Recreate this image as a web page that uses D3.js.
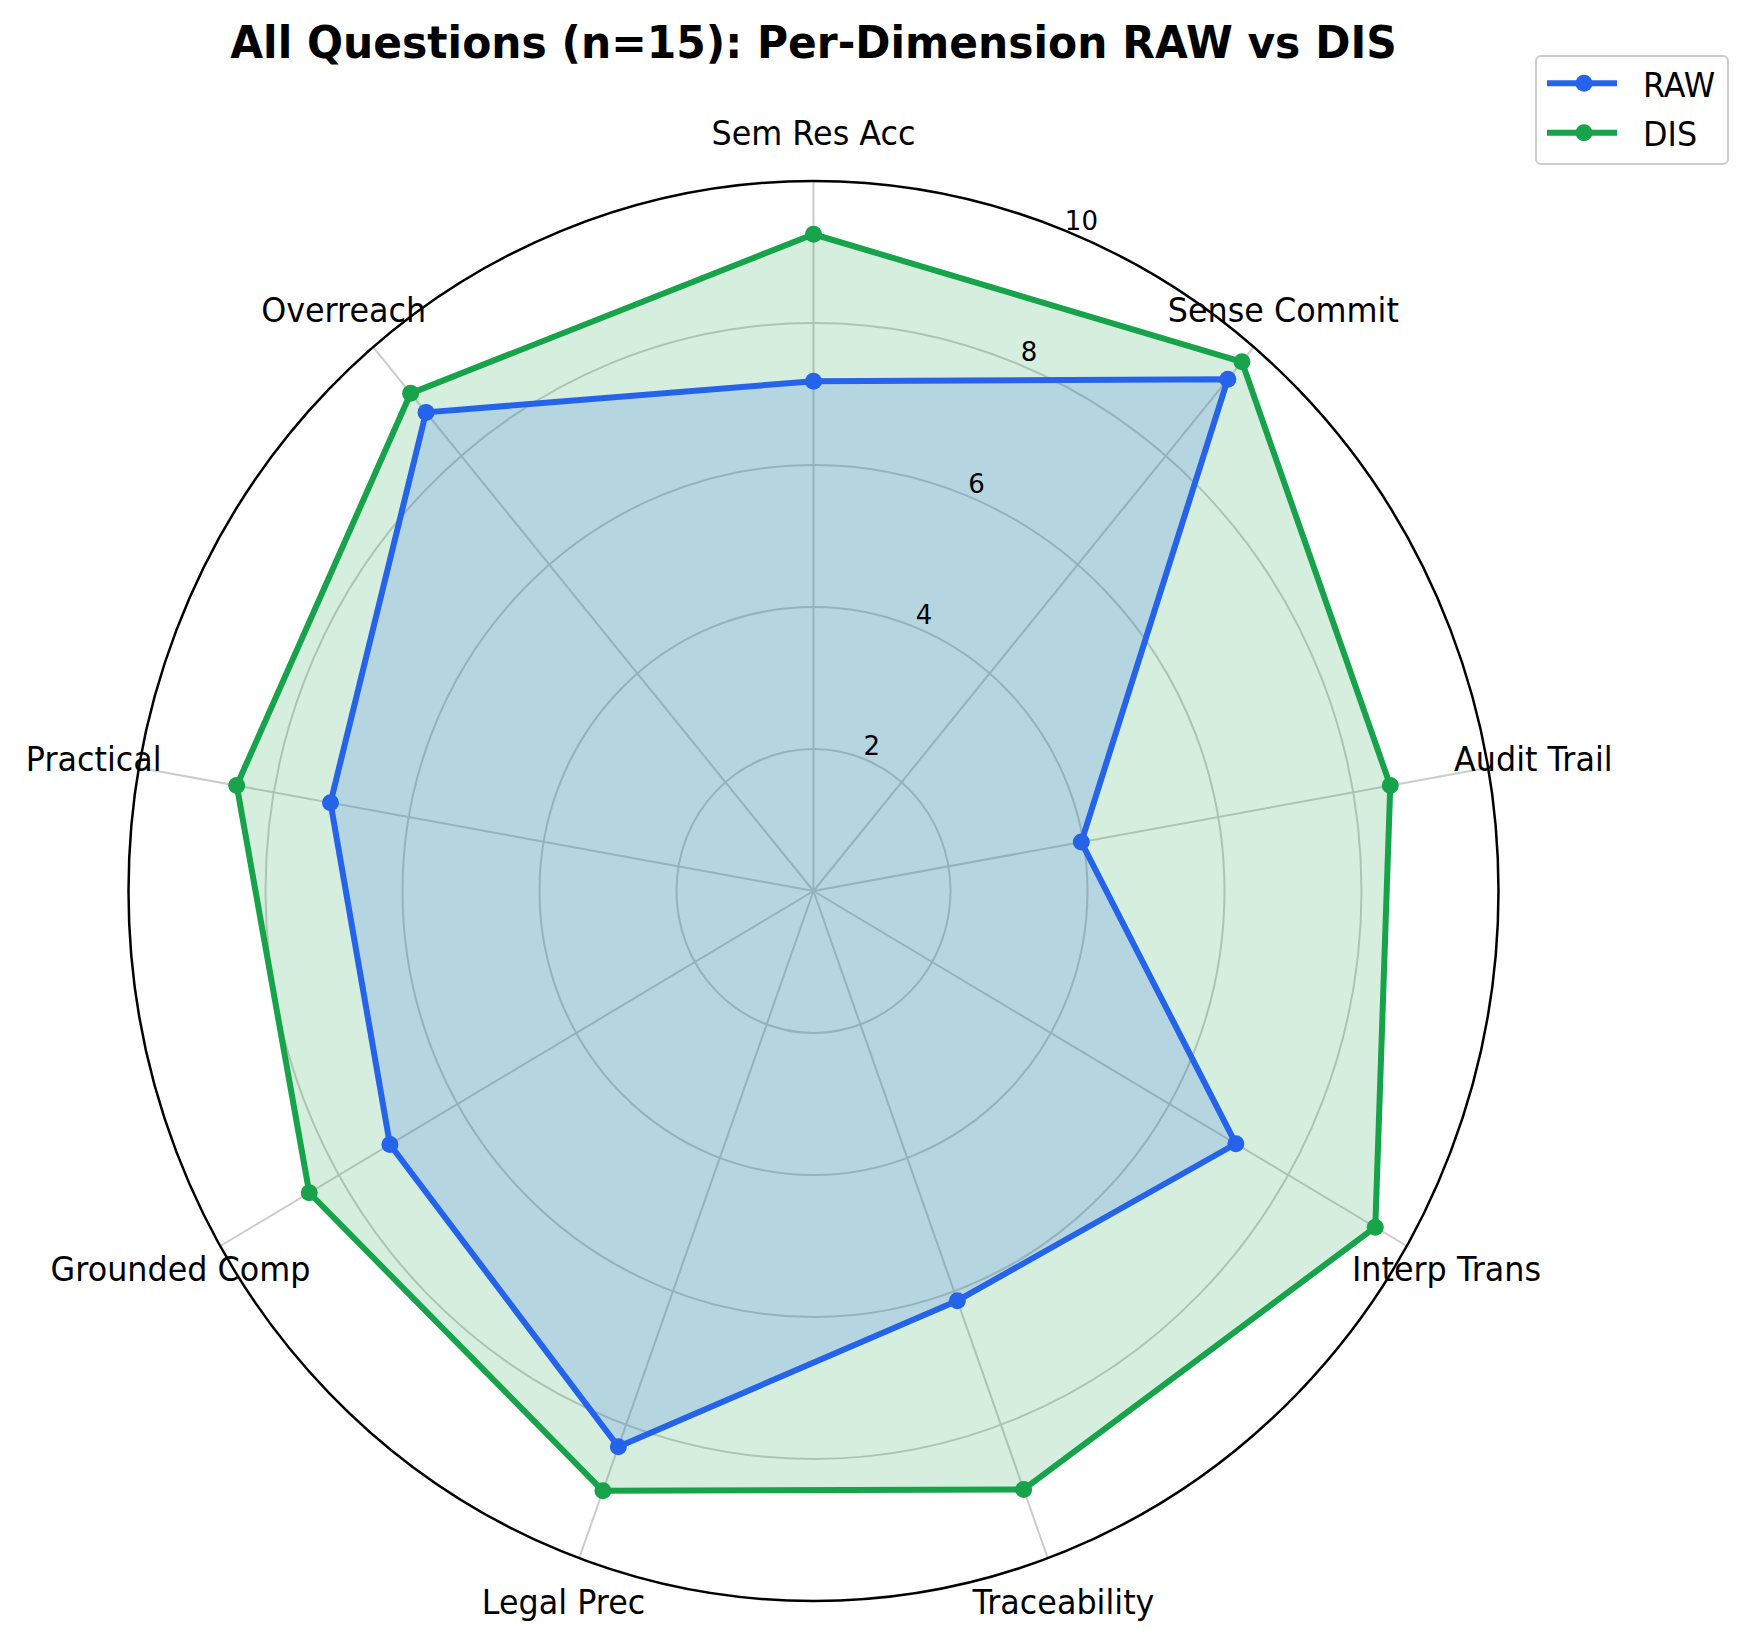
<!DOCTYPE html>
<html>
<head>
<meta charset="utf-8">
<script src="https://cdn.jsdelivr.net/npm/d3@7"></script>
<style>
  body { margin: 0; background: #fff; }
  text { font-family: "DejaVu Sans", sans-serif; fill: #000; }
</style>
</head>
<body>
<div id="chart"></div>
<script>
// data
var dimensions = ["Sem Res Acc", "Sense Commit", "Audit Trail", "Interp Trans", "Traceability",
                  "Legal Prec", "Grounded Comp", "Practical", "Overreach"];
var rawScores = [7.18, 9.41, 3.97, 7.12, 6.14, 8.33, 7.14, 7.16, 8.80];
var disScores = [9.25, 9.73, 8.55, 9.47, 8.97, 8.99, 8.50, 8.55, 9.15];
var radialTicks = [2, 4, 6, 8, 10];
var seriesNames = ["RAW", "DIS"];
var seriesColors = ["#2563eb", "#16a34a"];

var width = 1752, height = 1645;
var cx = 813.5, cy = 891;
var rx = 685, ry = 710;      // picture is a bit taller than wide
var sx = rx / ry;            // squeeze text the same way

var svg = d3.select("#chart").append("svg")
    .attr("width", width)
    .attr("height", height);

var rX = d3.scaleLinear().domain([0, 10]).range([0, rx]);
var rY = d3.scaleLinear().domain([0, 10]).range([0, ry]);
var angle = d3.scaleLinear().domain([0, dimensions.length]).range([0, 2 * Math.PI]);

function px(v, i) { return cx + rX(v) * Math.sin(angle(i)); }
function py(v, i) { return cy - rY(v) * Math.cos(angle(i)); }

function squeezedText(g, x, y) {
    return g.append("text").attr("transform", "translate(" + x + "," + y + ") scale(" + sx + ",1)");
}

var grid = svg.append("g");

// rings
grid.selectAll("ellipse.ring")
    .data(radialTicks.filter(function (d) { return d < 10; }))
    .enter().append("ellipse")
    .attr("class", "ring")
    .attr("cx", cx).attr("cy", cy)
    .attr("rx", function (d) { return rX(d); })
    .attr("ry", function (d) { return rY(d); })
    .style("fill", "none")
    .style("stroke", "#cccccc")
    .style("stroke-width", 2);

// spokes
grid.selectAll("line.spoke")
    .data(dimensions)
    .enter().append("line")
    .attr("class", "spoke")
    .attr("x1", cx).attr("y1", cy)
    .attr("x2", function (d, i) { return px(10, i); })
    .attr("y2", function (d, i) { return py(10, i); })
    .style("stroke", "#cccccc")
    .style("stroke-width", 2);

var line = d3.line()
    .x(function (d, i) { return px(d, i); })
    .y(function (d, i) { return py(d, i); })
    .curve(d3.curveLinearClosed);

var allSeries = [rawScores, disScores];

// fills first, DIS under RAW
[1, 0].forEach(function (s) {
    svg.append("path")
        .datum(allSeries[s])
        .attr("d", line)
        .style("fill", seriesColors[s])
        .style("fill-opacity", 0.18)
        .style("stroke", "none");
});

[1, 0].forEach(function (s) {
    var g = svg.append("g");
    g.append("path")
        .datum(allSeries[s])
        .attr("d", line)
        .style("fill", "none")
        .style("stroke", seriesColors[s])
        .style("stroke-width", 6)
        .style("stroke-linejoin", "round");
    g.selectAll("circle")
        .data(allSeries[s])
        .enter().append("circle")
        .attr("cx", function (d, i) { return px(d, i); })
        .attr("cy", function (d, i) { return py(d, i); })
        .attr("r", 8.5)
        .style("fill", seriesColors[s]);
});

// outer spine
svg.append("ellipse")
    .attr("cx", cx).attr("cy", cy)
    .attr("rx", rX(10)).attr("ry", rY(10))
    .style("fill", "none")
    .style("stroke", "#000")
    .style("stroke-width", 2.5);

// radial tick labels at 22.5 deg
var labAng = 22.5 * Math.PI / 180;
radialTicks.forEach(function (t) {
    var r = t / 10 + 0.022;
    squeezedText(svg, cx + r * rx * Math.sin(labAng), cy - r * ry * Math.cos(labAng))
        .attr("text-anchor", "middle")
        .attr("dominant-baseline", "central")
        .style("font-size", "27px")
        .text(t);
});

// dimension labels
dimensions.forEach(function (d, i) {
    var f = 1.067;
    squeezedText(svg, cx + f * rx * Math.sin(angle(i)), cy - f * ry * Math.cos(angle(i)))
        .attr("text-anchor", "middle")
        .attr("dominant-baseline", "central")
        .style("font-size", "33px")
        .text(d);
});

// title
squeezedText(svg, cx, 58)
    .attr("text-anchor", "middle")
    .style("font-size", "44px")
    .style("font-weight", "bold")
    .text("All Questions (n=15): Per-Dimension RAW vs DIS");

// legend
var lg = svg.append("g").attr("class", "legend");
lg.append("rect")
    .attr("x", 1536).attr("y", 56)
    .attr("width", 192).attr("height", 108)
    .attr("rx", 5)
    .style("fill", "#fff")
    .style("fill-opacity", 0.8)
    .style("stroke", "#cccccc")
    .style("stroke-width", 2);

seriesNames.forEach(function (name, i) {
    var y = 83.3 + i * 49.4;
    lg.append("line")
        .attr("x1", 1547).attr("x2", 1617)
        .attr("y1", y).attr("y2", y)
        .style("stroke", seriesColors[i])
        .style("stroke-width", 6);
    lg.append("circle")
        .attr("cx", 1584).attr("cy", y)
        .attr("r", 8.5)
        .style("fill", seriesColors[i]);
    squeezedText(lg, 1643, y + 13.5)
        .style("font-size", "33px")
        .text(name);
});
</script>
</body>
</html>
